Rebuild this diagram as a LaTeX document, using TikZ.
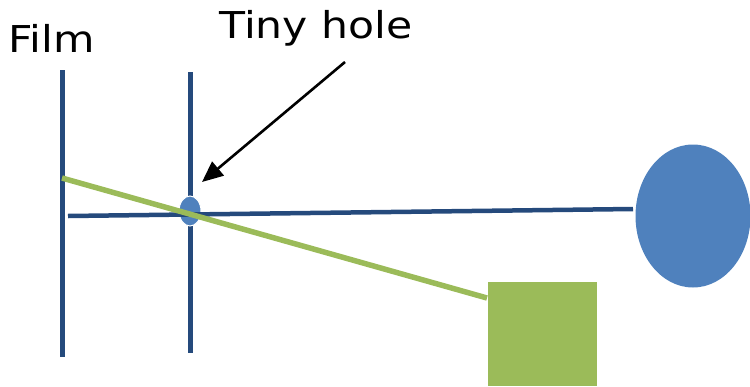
\documentclass[tikz,border=0pt]{standalone}
\usepackage{fontspec}
\newfontfamily\labelfont[FakeStretch=1.15]{DejaVu Sans}
\usetikzlibrary{arrows.meta,shapes.geometric}

\definecolor{lineblue}{HTML}{254A7C}
\definecolor{fillblue}{HTML}{4F81BD}
\definecolor{raygreen}{HTML}{9BBB59}

\begin{document}
\begin{tikzpicture}[
    x=1pt,
    y=-1pt,
    line cap=butt,
    wall/.style={line width=5pt,lineblue},
    axis/.style={line width=4.5pt,lineblue},
    ray/.style={line width=5.5pt,raygreen},
    pointer/.style={-{Triangle[length=21pt,width=18pt]},line width=2.6pt,black},
    caption/.style={inner sep=0pt,font=\labelfont\fontsize{37}{40}\selectfont}
]
\useasboundingbox (0,0) rectangle (750,386);

% Labels.
\node[caption,anchor=base west] (filmlabel) at (8,52) {Film};
\node[caption,anchor=base] (holelabel) at (316,38) {Tiny hole};

% Film and screen with the hole.
\coordinate (filmtop) at (62,70);
\coordinate (filmbot) at (62,357);
\coordinate (screentop) at (190,72);
\coordinate (screenbot) at (190,353);
\draw[wall] (filmtop) -- (filmbot);
\draw[wall] (screentop) -- (screenbot);

\node[ellipse,fill=fillblue,draw=white,line width=1pt,
      minimum width=22pt,minimum height=30pt,inner sep=0pt] (pinhole) at (190,211) {};

% Objects.
\node[ellipse,fill=fillblue,minimum width=115pt,minimum height=143pt,inner sep=0pt] (object) at (693,216) {};
\node[rectangle,fill=raygreen,minimum width=109pt,minimum height=104pt,inner sep=0pt,anchor=north west] (block) at (488,282) {};

% Rays.
\coordinate (axisstart) at (68,216);
\coordinate (axisend) at (633,209);
\draw[axis] (axisstart) -- (axisend);

\coordinate (raystart) at (62,178);
\coordinate (rayend) at (487,298);
\draw[ray] (raystart) -- (rayend);

% Pointer to the hole.
\coordinate (pointerstart) at (345,62);
\coordinate (pointertip) at (202,182);
\draw[pointer] (pointerstart) -- (pointertip);
\end{tikzpicture}
\end{document}
